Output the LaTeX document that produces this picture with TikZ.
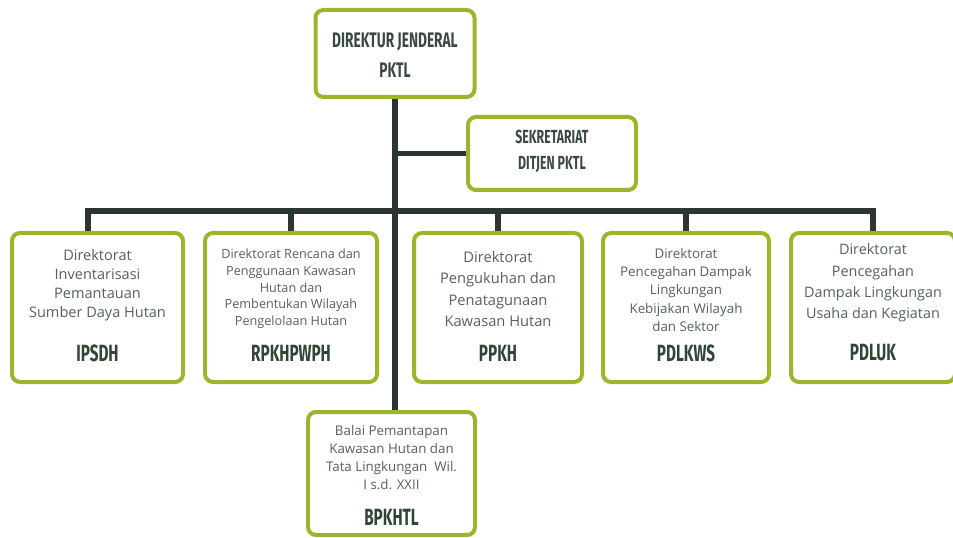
\documentclass[tikz,border=0pt]{standalone}
\usepackage{fontspec}
\setmainfont{Open Sans}
\newfontfamily\condfont[FakeStretch=0.65]{Fira Sans}
\definecolor{limeb}{HTML}{9DB52C}
\definecolor{linec}{HTML}{2B3630}
\definecolor{bodyc}{HTML}{56625B}
\definecolor{abbrc}{HTML}{2F4637}
\definecolor{titlec}{HTML}{3B4A41}
\tikzset{
  box/.style={draw=limeb, line width=3pt, rounded corners=6pt, fill=white, inner sep=0pt},
  conn/.style={draw=linec, line width=3.8pt},
  body/.style={text=bodyc, align=center, inner sep=0pt},
  abbr/.style={text=abbrc, inner sep=0pt, font=\condfont\bfseries\fontsize{17.6}{17.6}\selectfont},
  ttl/.style={text=titlec, align=center, inner sep=0pt},
}
\begin{document}
\begin{tikzpicture}[x=0.75pt,y=-0.75pt]
\useasboundingbox (0,0) rectangle (953,538);
\coordinate (busL) at (88,211);
\coordinate (busR) at (873,211);
% boxes
\node[box, minimum width=119.25pt, minimum height=65.25pt] (top) at (395,53.5) {};
\node[box, minimum width=126pt, minimum height=54.75pt] (sek) at (552,153.5) {};
\node[box, minimum width=128.25pt, minimum height=111.75pt] (b1) at (97.5,307.5) {};
\node[box, minimum width=129pt, minimum height=111.75pt] (b2) at (291,307.5) {};
\node[box, minimum width=126pt, minimum height=111.75pt] (b3) at (498,307.5) {};
\node[box, minimum width=124.5pt, minimum height=111.75pt] (b4) at (686,307.5) {};
\node[box, minimum width=123pt, minimum height=111.75pt] (b5) at (873,307.5) {};
\node[box, minimum width=125.25pt, minimum height=92.25pt] (bot) at (391.5,473.5) {};
% connectors
\draw[conn] (top.south) -- (top.south |- bot.north);
\draw[conn] (top.south |- sek.west) -- (sek.west);
\draw[conn] (busL |- b1.north) -- (busL) -- (busR) -- (b5.north);
\draw[conn] (b2.north) -- (b2.north |- busL);
\draw[conn] (b3.north) -- (b3.north |- busL);
\draw[conn] (b4.north) -- (b4.north |- busL);
% titles
\node[ttl, font=\condfont\bfseries\fontsize{15.8}{22.5}\selectfont] (tt) at (395,55) {DIREKTUR JENDERAL\\PKTL};
\node[ttl, font=\condfont\bfseries\fontsize{14.2}{19.5}\selectfont] (st) at (552,151) {SEKRETARIAT\\DITJEN PKTL};
% body texts
\node[body, font=\fontsize{10.9}{14.25}\selectfont] (t1) at (97.5,285) {Direktorat\\Inventarisasi\\Pemantauan\\Sumber Daya Hutan};
\node[body, font=\fontsize{9.5}{12.5}\selectfont] (t2) at (291,289) {Direktorat Rencana dan\\Penggunaan Kawasan\\Hutan dan\\Pembentukan Wilayah\\Pengelolaan Hutan};
\node[body, font=\fontsize{11}{16}\selectfont] (t3) at (498,289) {Direktorat\\Pengukuhan dan\\Penatagunaan\\Kawasan Hutan};
\node[body, font=\fontsize{10}{13.7}\selectfont] (t4) at (686,290) {Direktorat\\Pencegahan Dampak\\Lingkungan\\Kebijakan Wilayah\\dan Sektor};
\node[body, font=\fontsize{10.8}{16}\selectfont] (t5) at (873,283) {Direktorat\\Pencegahan\\Dampak Lingkungan\\Usaha dan Kegiatan};
\node[body, font=\fontsize{10}{13.5}\selectfont] (t6) at (391.5,458) {Balai Pemantapan\\Kawasan Hutan dan\\Tata Lingkungan\ \ Wil.\\I s.d. XXII};
% abbreviations
\node[abbr] (a1) at (97.5,353) {IPSDH};
\node[abbr] (a2) at (291,353) {RPKHPWPH};
\node[abbr] (a3) at (498,353) {PPKH};
\node[abbr] (a4) at (686,353) {PDLKWS};
\node[abbr] (a5) at (873,353) {PDLUK};
\node[abbr] (a6) at (391.5,517) {BPKHTL};
\end{tikzpicture}
\end{document}
